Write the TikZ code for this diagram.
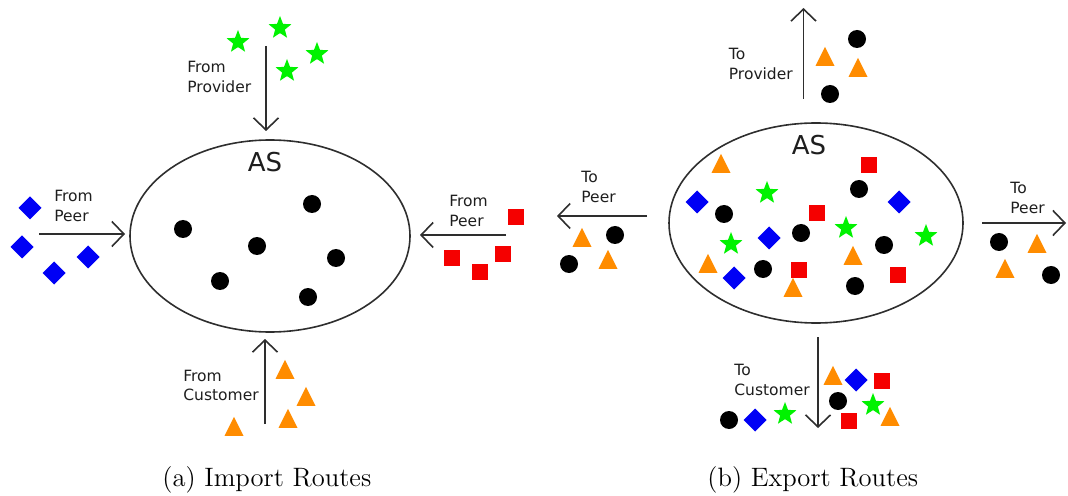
\documentclass[tikz,border=0pt]{standalone}
\usepackage{fontspec}
\newfontfamily\labelfont{DejaVu Sans}
\usetikzlibrary{shapes.geometric,arrows.meta}
\definecolor{ink}{HTML}{2E2E2E}
\definecolor{txt}{HTML}{1E1E1E}
\definecolor{rtgreen}{HTML}{00F200}
\definecolor{rtblue}{HTML}{0000F5}
\definecolor{rtred}{HTML}{F50000}
\definecolor{rtorange}{HTML}{FF8C00}

\begin{document}
\begin{tikzpicture}[x=0.5pt,y=-0.5pt,
  shapebase/.style={draw=none,inner sep=0pt,outer sep=0pt},
  dot/.style={shapebase,circle,fill=black,minimum size=9pt},
  gem/.style={shapebase,diamond,fill=rtblue,minimum size=11.5pt},
  sq/.style={shapebase,rectangle,fill=rtred,minimum size=8pt},
  tri/.style={shapebase,isosceles triangle,isosceles triangle stretches,shape border rotate=90,
              fill=rtorange,minimum width=9.5pt,minimum height=9.5pt},
  starmark/.style={shapebase,star,star points=5,star point ratio=2.35,fill=rtgreen,minimum size=12pt},
  asbox/.style={ellipse,draw=ink,line width=0.8pt,inner sep=0pt},
  astext/.style={inner sep=0pt,font=\labelfont\fontsize{13}{15}\selectfont,text=txt},
  lbl/.style={inner sep=0pt,anchor=base west,font=\labelfont\fontsize{7.75}{9.75}\selectfont,text=txt},
  flow/.style={draw=ink,line width=0.8pt,-{Straight Barb[length=6pt,width=12.5pt]}},
  caption/.style={inner sep=0pt,anchor=base west,font=\fontsize{13.3}{16}\selectfont}]
\useasboundingbox (0,0) rectangle (1068,496);

% ---------------- (a) Import Routes ----------------
\node[asbox,minimum width=140pt,minimum height=96pt] (asL) at (270,236) {};
\node[astext,anchor=base] (asLtxt) at (265,172) {AS};

% routes already held by the AS
\foreach \px/\py [count=\i] in {183/229,312/204,257/246,336/258,220/281,308/297}
  \node[dot] (ldot\i) at (\px,\py) {};

% from provider
\coordinate (lProvTail) at (266,46);
\coordinate (lProvHead) at (266,131);
\draw[flow] (lProvTail) -- (lProvHead);
\node[lbl] (lProvLbl) at (187,73) {\begin{tabular}[t]{@{}l@{}}From\\Provider\end{tabular}};
\foreach \px/\py [count=\i] in {238/42,280/28,317/54,287/71}
  \node[starmark] (lstar\i) at (\px,\py) {};

% from peer (left)
\coordinate (lPeerATail) at (39,234);
\coordinate (lPeerAHead) at (125,234);
\draw[flow] (lPeerATail) -- (lPeerAHead);
\node[lbl] (lPeerALbl) at (54,202) {\begin{tabular}[t]{@{}l@{}}From\\Peer\end{tabular}};
\foreach \px/\py [count=\i] in {30/208,22/247,54/273,88/257}
  \node[gem] (lgem\i) at (\px,\py) {};

% from peer (right)
\coordinate (lPeerBTail) at (506,235);
\coordinate (lPeerBHead) at (420,235);
\draw[flow] (lPeerBTail) -- (lPeerBHead);
\node[lbl] (lPeerBLbl) at (449,207) {\begin{tabular}[t]{@{}l@{}}From\\Peer\end{tabular}};
\foreach \px/\py [count=\i] in {516/217,452/258,503/254,480/272}
  \node[sq] (lsq\i) at (\px,\py) {};

% from customer
\coordinate (lCustTail) at (265,424);
\coordinate (lCustHead) at (265,339);
\draw[flow] (lCustTail) -- (lCustHead);
\node[lbl] (lCustLbl) at (183,381) {\begin{tabular}[t]{@{}l@{}}From\\Customer\end{tabular}};
\foreach \px/\py [count=\i] in {285/373,306/400,288/422,234/430}
  \node[tri] (ltri\i) at (\px,\py) {};

\node[caption] (capA) at (162,486) {(a) Import Routes};

% ---------------- (b) Export Routes ----------------
\node[asbox,minimum width=147pt,minimum height=100pt] (asR) at (816,223) {};
\node[astext,anchor=base] (asRtxt) at (809,155) {AS};

% everything the AS has learned
\foreach \px/\py [count=\i] in {721/167,853/259,708/267,793/291}
  \node[tri] (rtri\i) at (\px,\py) {};
\foreach \px/\py [count=\i] in {869/165,817/213,799/270,898/275}
  \node[sq] (rsq\i) at (\px,\py) {};
\foreach \px/\py [count=\i] in {767/193,846/228,926/236,731/244}
  \node[starmark] (rstar\i) at (\px,\py) {};
\foreach \px/\py [count=\i] in {859/189,724/214,801/233,884/245,763/269,855/286}
  \node[dot] (rdot\i) at (\px,\py) {};
\foreach \px/\py [count=\i] in {697/202,899/202,769/238,734/278}
  \node[gem] (rgem\i) at (\px,\py) {};

% to provider
\coordinate (rProvTail) at (803.5,99);
\coordinate (rProvHead) at (803.5,8);
\draw[flow] (rProvTail) -- (rProvHead);
\node[lbl] (rProvLbl) at (728.5,60) {\begin{tabular}[t]{@{}l@{}}To\\Provider\end{tabular}};
\node[dot] (pdot1) at (857,39) {};
\node[dot] (pdot2) at (830,94) {};
\node[tri] (ptri1) at (825,60) {};
\node[tri] (ptri2) at (858,71) {};

% to peer (left)
\coordinate (rPeerATail) at (647,216);
\coordinate (rPeerAHead) at (557,216);
\draw[flow] (rPeerATail) -- (rPeerAHead);
\node[lbl] (rPeerALbl) at (581,183) {\begin{tabular}[t]{@{}l@{}}To\\Peer\end{tabular}};
\node[tri] (atri1) at (582,241) {};
\node[tri] (atri2) at (608,263) {};
\node[dot] (adot1) at (615,235) {};
\node[dot] (adot2) at (569,264) {};

% to peer (right)
\coordinate (rPeerBTail) at (982,223);
\coordinate (rPeerBHead) at (1066,223);
\draw[flow] (rPeerBTail) -- (rPeerBHead);
\node[lbl] (rPeerBLbl) at (1010,194) {\begin{tabular}[t]{@{}l@{}}To\\Peer\end{tabular}};
\node[dot] (bdot1) at (999,242) {};
\node[dot] (bdot2) at (1051,275) {};
\node[tri] (btri1) at (1037,247) {};
\node[tri] (btri2) at (1005,272) {};

% to customer
\coordinate (rCustTail) at (818,337);
\coordinate (rCustHead) at (818,428);
\draw[flow] (rCustTail) -- (rCustHead);
\node[lbl] (rCustLbl) at (734,375.5) {\begin{tabular}[t]{@{}l@{}}To\\Customer\end{tabular}};
\node[dot] (cdot1) at (729,420) {};
\node[dot] (cdot2) at (838,401) {};
\node[gem] (cgem1) at (755,420) {};
\node[gem] (cgem2) at (856,380) {};
\node[starmark] (cstar1) at (785,414) {};
\node[starmark] (cstar2) at (873,405) {};
\node[sq] (csq1) at (882,381) {};
\node[sq] (csq2) at (849,421) {};
\node[tri] (ctri1) at (833,379) {};
\node[tri] (ctri2) at (890,420) {};

\node[caption] (capB) at (707,486) {(b) Export Routes};
\end{tikzpicture}
\end{document}
